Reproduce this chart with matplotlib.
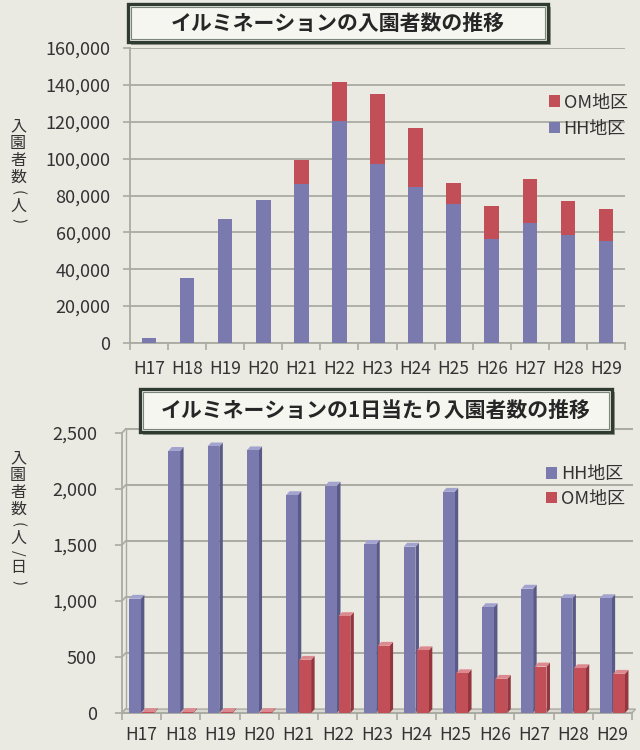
import matplotlib
matplotlib.use("Agg")
import matplotlib.pyplot as plt
from matplotlib.patches import Rectangle, Polygon
from matplotlib.ticker import FuncFormatter
import numpy as np

plt.rcParams['font.family'] = ['Noto Sans CJK JP', 'DejaVu Sans']

# ---- data ----
years = ["H17", "H18", "H19", "H20", "H21", "H22", "H23", "H24", "H25",
         "H26", "H27", "H28", "H29"]

# total visitors per season (persons)
hh_total = [2800, 35000, 67000, 77700, 86300, 120500, 97100, 84500, 75500,
            56600, 65200, 58400, 55300]
om_total = [0, 0, 0, 0, 13000, 21300, 37900, 31900, 11400,
            17800, 23800, 18400, 17500]

# visitors per day (persons/day)
hh_daily = [1020, 2340, 2380, 2345, 1945, 2030, 1510, 1485, 1975,
            945, 1110, 1025, 1025]
om_daily = [8, 8, 8, 8, 475, 865, 600, 560, 355, 305, 415, 400, 350]

title_top = "イルミネーションの入園者数の推移"
title_bottom = "イルミネーションの1日当たり入園者数の推移"
ylabel_top = "入園者数(人)"
ylabel_bottom = "入園者数(人/日)"
label_hh = "HH地区"
label_om = "OM地区"

# ---- style ----
BG = "#eae9e2"
PURPLE = "#7a7aae"
PURPLE_SIDE = "#5a5a88"
PURPLE_TOP = "#a3a3cf"
RED = "#c24f57"
RED_SIDE = "#93363e"
RED_TOP = "#dc8a8f"
GRID = "#a9aaa2"
TEXT = "#333333"

W, H = 640, 750
fig = plt.figure(figsize=(W / 100, H / 100), dpi=100, facecolor=BG)


def fx(px):
    return px / W


def fy(py):
    return 1 - py / H


def title_box(x0, y0, x1, y1, text):
    # drop shadow, frame and caption of a chart heading
    fig.patches.append(Rectangle((fx(x0 + 3), fy(y1 + 3)), fx(x1 - x0), (y1 - y0) / H,
                                 transform=fig.transFigure, facecolor="#9a9d94",
                                 edgecolor="none", zorder=1))
    fig.patches.append(Rectangle((fx(x0), fy(y1)), fx(x1 - x0), (y1 - y0) / H,
                                 transform=fig.transFigure, facecolor="#f6f6f1",
                                 edgecolor="#2f3a30", linewidth=2.4, zorder=2))
    fig.patches.append(Rectangle((fx(x0 + 3), fy(y1 - 3)), fx(x1 - x0 - 6), (y1 - y0 - 6) / H,
                                 transform=fig.transFigure, facecolor="none",
                                 edgecolor="#7c857a", linewidth=0.8, zorder=3))
    fig.text(fx((x0 + x1) / 2), fy((y0 + y1) / 2), text, ha="center", va="center",
             fontsize=15, fontweight="bold", color="#262626", zorder=4)


def vertical_label(xc, y_start, text):
    # set the axis caption top to bottom, turning brackets and slash sideways
    y = y_start
    for ch in text:
        turned = ch in "()/"
        step = 12 if turned else 17
        y += step / 2
        fig.text(fx(xc), fy(y), ch, ha="center", va="center",
                 fontsize=10.5 if turned else 11.5, color=TEXT,
                 rotation=-90 if turned else 0, rotation_mode="anchor")
        y += step / 2


thousands = FuncFormatter(lambda v, p: f"{int(v):,}")
x = np.arange(len(years))

# ================= top chart: stacked totals =================
ax1 = fig.add_axes([fx(130), fy(343), fx(625 - 130), (343 - 48) / H])
ax1.set_facecolor("none")
ax1.bar(x, hh_total, width=0.38, color=PURPLE, label=label_hh, zorder=3)
ax1.bar(x, om_total, width=0.38, bottom=hh_total, color=RED, label=label_om, zorder=3)
ax1.set_xlim(-0.5, len(years) - 0.5)
ax1.set_ylim(0, 160000)
ax1.set_yticks(np.arange(0, 160001, 20000))
ax1.yaxis.set_major_formatter(thousands)
ax1.set_xticks(x)
ax1.set_xticklabels(years)
ax1.set_xticks(np.arange(-0.5, len(years)), minor=True)
ax1.tick_params(axis="x", which="major", length=0, pad=12, labelsize=12.5, labelcolor=TEXT)
ax1.tick_params(axis="x", which="minor", length=5, color=GRID, width=1.2)
ax1.tick_params(axis="y", length=5, color=GRID, width=1.2, labelsize=13,
                labelcolor=TEXT, pad=9)
ax1.grid(axis="y", color=GRID, linewidth=1.3, zorder=0)
for s in ["top", "right"]:
    ax1.spines[s].set_visible(False)
for s in ["left", "bottom"]:
    ax1.spines[s].set_color(GRID)
    ax1.spines[s].set_linewidth(1.3)
h, l = ax1.get_legend_handles_labels()
ax1.legend(h[::-1], l[::-1], loc="upper right", bbox_to_anchor=(1.02, 0.87),
           frameon=False, fontsize=13, handlelength=0.6, handleheight=0.6,
           handletextpad=0.2, labelspacing=0.45, borderaxespad=0,
           labelcolor=TEXT)
vertical_label(18, 118, ylabel_top)
title_box(128, 4, 548, 42, title_top)

# ================= bottom chart: per-day, pseudo-3D columns =================
ax2 = fig.add_axes([fx(122), fy(713), fx(632 - 122), (713 - 433) / H])
ax2.set_facecolor("none")
ax2.set_xlim(-0.5, len(years) - 0.5)
ax2.set_ylim(0, 2500)
dx, dy = 0.09, 35          # depth offset of the 3-D look

# back-wall gridlines and the left wall edge
for v in np.arange(0, 2501, 500):
    ax2.plot([-0.5, -0.5 + dx], [v, v + dy], color=GRID, lw=1.2, zorder=1,
             clip_on=False)
    if v > 0:
        ax2.plot([-0.5 + dx, len(years) - 0.5], [v + dy, v + dy], color=GRID,
                 lw=1.4, zorder=1, clip_on=False)
ax2.plot([-0.5 + dx, -0.5 + dx], [dy, 2500 + dy], color=GRID, lw=1.0, zorder=1,
         clip_on=False)
# floor
ax2.add_patch(Polygon([[-0.5, 0], [len(years) - 0.5, 0],
                       [len(years) - 0.5 + dx, dy], [-0.5 + dx, dy]],
                      closed=True, facecolor="#d9d9d0", edgecolor=GRID, lw=1.0,
                      zorder=1, clip_on=False))


def column(xc, w, val, face, side, top, label=None):
    x0, x1 = xc - w / 2, xc + w / 2
    ax2.add_patch(Polygon([[x1, 0], [x1 + dx, dy], [x1 + dx, val + dy], [x1, val]],
                          closed=True, facecolor=side, edgecolor="none", zorder=3,
                          clip_on=False))
    ax2.add_patch(Polygon([[x0, val], [x0 + dx, val + dy], [x1 + dx, val + dy], [x1, val]],
                          closed=True, facecolor=top, edgecolor="none", zorder=3,
                          clip_on=False))
    ax2.bar(xc, val, width=w, color=face, zorder=4, label=label)


bw = 0.30
for i in range(len(years)):
    column(x[i] - 0.17, bw, hh_daily[i], PURPLE, PURPLE_SIDE, PURPLE_TOP,
           label_hh if i == 0 else None)
    column(x[i] + 0.17, bw, om_daily[i], RED, RED_SIDE, RED_TOP,
           label_om if i == 0 else None)

ax2.set_yticks(np.arange(0, 2501, 500))
ax2.yaxis.set_major_formatter(thousands)
ax2.set_xticks(x)
ax2.set_xticklabels(years)
ax2.set_xticks(np.arange(-0.5, len(years)), minor=True)
ax2.tick_params(axis="x", which="major", length=0, pad=9, labelsize=12.5, labelcolor=TEXT)
ax2.tick_params(axis="x", which="minor", length=5, color=GRID, width=1.2)
ax2.tick_params(axis="y", length=5, color=GRID, width=1.2, labelsize=13,
                labelcolor=TEXT, pad=13)
for s in ["top", "right"]:
    ax2.spines[s].set_visible(False)
for s in ["left", "bottom"]:
    ax2.spines[s].set_color(GRID)
    ax2.spines[s].set_linewidth(1.3)
ax2.legend(loc="upper right", bbox_to_anchor=(1.0, 0.91), frameon=False,
           fontsize=13, handlelength=0.6, handleheight=0.6, handletextpad=0.2,
           labelspacing=0.35, borderaxespad=0, labelcolor=TEXT)
vertical_label(18, 450, ylabel_bottom)
title_box(140, 389, 612, 432, title_bottom)

fig.savefig("out.png", dpi=100, facecolor=BG)
